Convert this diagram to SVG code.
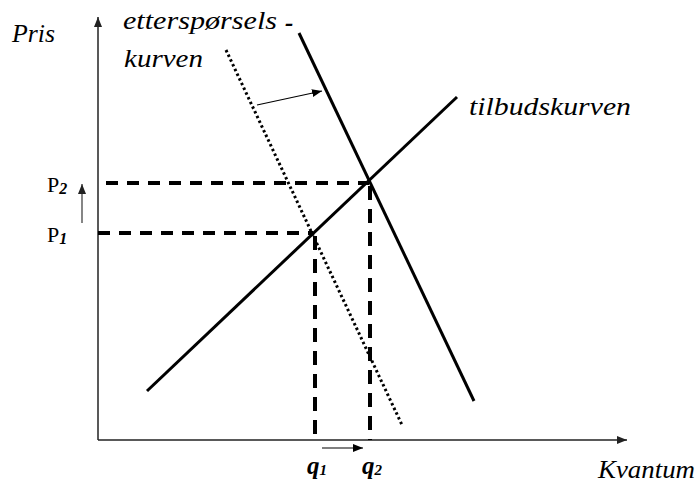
<svg xmlns="http://www.w3.org/2000/svg" width="696" height="482" viewBox="0 0 696 482">
<style>
.axis{stroke:#222;stroke-width:1.5;fill:none}
.curve{stroke:#000;stroke-width:3;fill:none}
.dot{stroke:#000;stroke-width:3;fill:none;stroke-dasharray:2.5 2.7}
.dash{stroke:#000;stroke-width:4;fill:none;stroke-dasharray:12 9}
.thin{stroke:#000;stroke-width:1.2;fill:none}
text{font-family:'Liberation Serif','DejaVu Serif',serif;fill:#000}
.lbl{font-style:italic;font-size:25px}
.reg{font-size:22px}
</style>
<defs>
<marker id="ah" viewBox="0 0 10 8" refX="10" refY="4" markerWidth="10" markerHeight="8" markerUnits="userSpaceOnUse" orient="auto">
<path d="M0,0 L10,4 L0,8 Z" fill="#000"/>
</marker>
<marker id="ahg" viewBox="0 0 10 8" refX="10" refY="4" markerWidth="10" markerHeight="8" markerUnits="userSpaceOnUse" orient="auto">
<path d="M0,0 L10,4 L0,8 Z" fill="#222"/>
</marker>
</defs>
<g id="axes">
<line class="axis" x1="98" y1="440" x2="98" y2="17" marker-end="url(#ahg)"/>
<line class="axis" x1="98" y1="440" x2="627" y2="440" marker-end="url(#ahg)"/>
</g>
<g id="connectors">
<line class="dash" x1="106" y1="183" x2="369" y2="183"/>
<line class="dash" x1="98" y1="233" x2="313" y2="233"/>
<line class="dash" x1="370" y1="186" x2="370" y2="440" style="stroke-dasharray:14 9"/>
<line class="dash" x1="315" y1="236" x2="315" y2="440" style="stroke-dasharray:14 9"/>
<line class="thin" x1="257" y1="105" x2="322" y2="91" marker-end="url(#ah)"/>
<line class="thin" x1="322" y1="448" x2="363" y2="448" marker-end="url(#ah)"/>
<line x1="82" y1="223" x2="82" y2="184" stroke="#444" stroke-width="1.3" marker-end="url(#ahg)"/>
</g>
<g id="supply">
<line class="curve" x1="147" y1="391" x2="457" y2="97"/>
</g>
<g id="demand">
<line class="curve" x1="299" y1="33" x2="474" y2="401"/>
</g>
<g id="demand-old">
<line class="dot" x1="226" y1="50" x2="402" y2="425"/>
</g>
<g id="labels">
<text class="lbl" x="12" y="42" textLength="43" lengthAdjust="spacingAndGlyphs">Pris</text>
<text class="lbl" x="123" y="29" textLength="154" lengthAdjust="spacingAndGlyphs">etterspørsels</text>
<text class="lbl" x="285" y="31" style="font-weight:bold">-</text>
<text class="lbl" x="124" y="67" textLength="79" lengthAdjust="spacingAndGlyphs">kurven</text>
<text class="lbl" x="469" y="115" textLength="162" lengthAdjust="spacingAndGlyphs">tilbudskurven</text>
<text class="lbl" x="598" y="478" textLength="97" lengthAdjust="spacingAndGlyphs">Kvantum</text>
<text class="reg" x="47" y="192">P<tspan style="font-style:italic;font-weight:bold;font-size:16px" dy="2">2</tspan></text>
<text class="reg" x="47" y="242">P<tspan style="font-style:italic;font-weight:bold;font-size:16px" dy="2">1</tspan></text>
<text class="lbl" x="307" y="474" style="font-weight:bold">q<tspan style="font-size:15px" dy="1">1</tspan></text>
<text class="lbl" x="362" y="474" style="font-weight:bold">q<tspan style="font-size:15px" dy="1">2</tspan></text>
</g>
</svg>
